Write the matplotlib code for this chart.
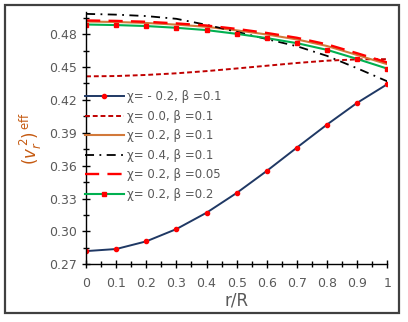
import matplotlib.pyplot as plt
from matplotlib.patches import Rectangle
from matplotlib.ticker import MultipleLocator

# r/R values
r = [0.0, 0.1, 0.2, 0.3, 0.4, 0.5, 0.6, 0.7, 0.8, 0.9, 1.0]

# (v_r^2)^eff for each case
chi_m02_b01 = [0.2821, 0.2840, 0.2910, 0.3022, 0.3171, 0.3351, 0.3552, 0.3765, 0.3975, 0.4173, 0.4343]
chi_00_b01 = [0.4415, 0.4418, 0.4428, 0.4443, 0.4463, 0.4487, 0.4512, 0.4537, 0.4558, 0.4570, 0.4572]
chi_02_b01 = [0.4915, 0.4911, 0.4902, 0.4887, 0.4867, 0.4835, 0.4797, 0.4752, 0.4692, 0.4610, 0.4526]
chi_04_b01 = [0.4985, 0.4978, 0.4965, 0.4940, 0.4885, 0.4822, 0.4755, 0.4690, 0.4602, 0.4489, 0.4370]
chi_02_b005 = [0.4925, 0.4921, 0.4913, 0.4898, 0.4879, 0.4848, 0.4811, 0.4767, 0.4707, 0.4626, 0.4542]
chi_02_b02 = [0.4888, 0.4883, 0.4874, 0.4858, 0.4837, 0.4803, 0.4764, 0.4718, 0.4657, 0.4574, 0.4486]

labels = ["χ= - 0.2, β =0.1", "χ= 0.0, β =0.1", "χ= 0.2, β =0.1",
          "χ= 0.4, β =0.1", "χ= 0.2, β =0.05", "χ= 0.2, β =0.2"]

fig = plt.figure(figsize=(4.08, 3.22), dpi=100)
ax = fig.add_axes([0.211, 0.179, 0.738, 0.783])

gray = "#595959"

ax.plot(r, chi_m02_b01, color="#1F3864", lw=1.4, marker="o", ms=3,
        mfc="red", mec="red", label=labels[0])
ax.plot(r, chi_00_b01, color="#C00000", lw=1.4, ls=(0, (2.5, 1.5)), label=labels[1])
ax.plot(r, chi_02_b01, color="#D2793A", lw=1.5, label=labels[2])
ax.plot(r, chi_04_b01, color="black", lw=1.3, ls=(0, (5, 3, 1, 3)), label=labels[3])
ax.plot(r, chi_02_b005, color="red", lw=1.7, ls=(0, (6, 3.5)), label=labels[4])
ax.plot(r, chi_02_b02, color="#00B050", lw=1.5, marker="s", ms=3.5,
        mfc="red", mec="red", label=labels[5])

ax.set_xlim(0, 1)
ax.set_ylim(0.27, 0.50)
ax.xaxis.set_minor_locator(MultipleLocator(0.05))
ax.yaxis.set_minor_locator(MultipleLocator(0.015))
ax.set_yticks([0.27, 0.30, 0.33, 0.36, 0.39, 0.42, 0.45, 0.48])
ax.set_xticks(r)
ax.set_xticklabels(["0", "0.1", "0.2", "0.3", "0.4", "0.5", "0.6", "0.7", "0.8", "0.9", "1"])
ax.set_yticklabels(["%.2f" % v for v in ax.get_yticks()])

for s in ["top", "right"]:
    ax.spines[s].set_visible(False)
for s in ["left", "bottom"]:
    ax.spines[s].set_color("black")
    ax.spines[s].set_linewidth(1.0)

ax.tick_params(which="major", direction="inout", length=6, width=1, colors="black",
               labelcolor=gray, labelsize=9)
ax.tick_params(which="minor", direction="inout", length=4, width=1, colors="black")
ax.tick_params(axis="x", pad=6)

ax.set_xlabel("r/R", fontsize=12, color=gray, labelpad=1)
ax.set_ylabel(r"$(v_r^{\,2})^{\,\rm eff}$", fontsize=12, color="#C55A11", labelpad=4)

leg = ax.legend(loc="upper left", bbox_to_anchor=(-0.005, 0.69), frameon=False,
                fontsize=8.5, handlelength=3.3, handletextpad=0.3,
                labelspacing=0.55, borderaxespad=0, borderpad=0)
for t in leg.get_texts():
    t.set_color(gray)

# outer chart border
fig.patches.append(Rectangle((5 / 408, 9 / 322), 394 / 408, 308 / 322,
                             transform=fig.transFigure, fill=False,
                             edgecolor="#404040", lw=1.6))

fig.savefig("out.png", dpi=100)
